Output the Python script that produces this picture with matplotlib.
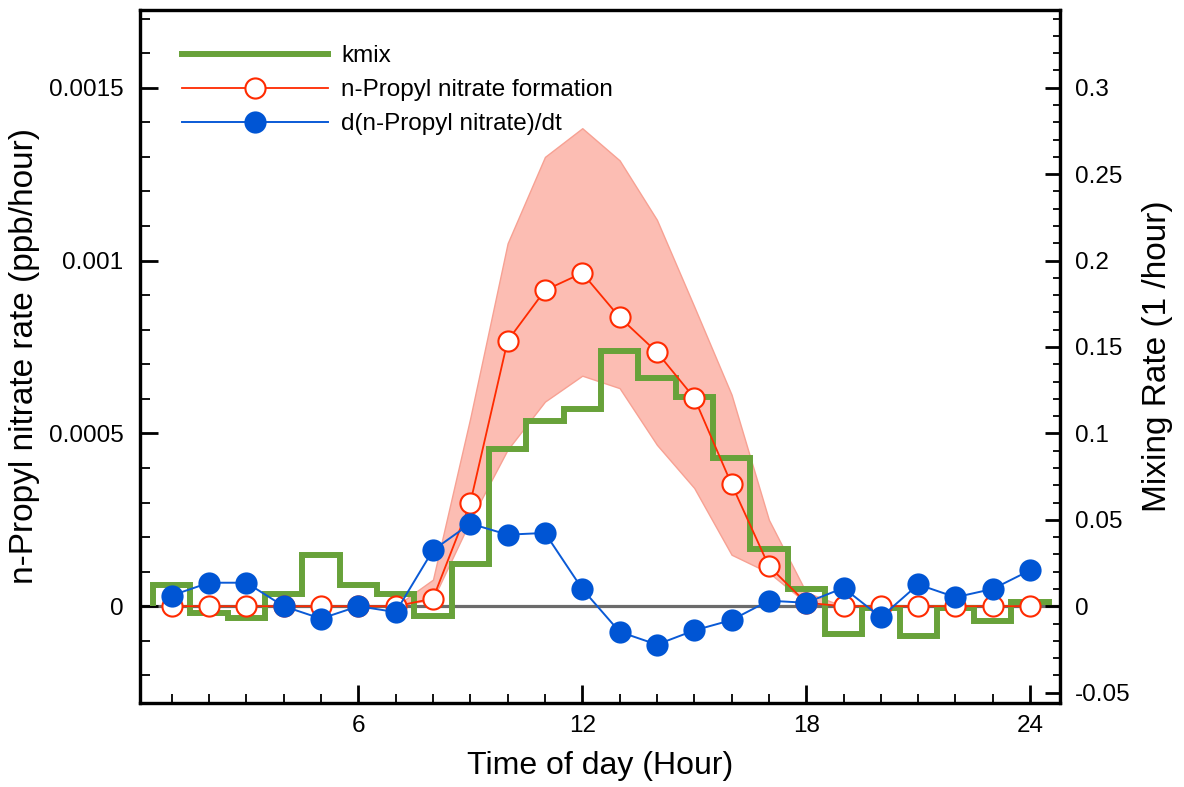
import numpy as np
import matplotlib
matplotlib.use("Agg")
import matplotlib.pyplot as plt
from matplotlib.ticker import FixedLocator, MultipleLocator, FuncFormatter

plt.rcParams['font.family'] = ['Liberation Sans', 'DejaVu Sans']

# ---- data ----
hours = list(range(1, 25))
formation = [0, 0, 0, 0, 0, 0, 0, 0.000022, 0.000299, 0.000768, 0.000914, 0.000964,
             0.000836, 0.000735, 0.000603, 0.000353, 0.000116, 0.00001, 0, 0, 0, 0, 0, 0]
formation_upper = [0, 0, 0, 0, 0, 0, 0, 0.000077, 0.000545, 0.00105, 0.0013, 0.001383,
                   0.00129, 0.001118, 0.000867, 0.000612, 0.00025, 0.00004, 0, 0, 0, 0, 0, 0]
formation_lower = [0, 0, 0, 0, 0, 0, 0, 0.00002, 0.000248, 0.000453, 0.000592, 0.000667,
                   0.000631, 0.000467, 0.000342, 0.000149, 0.000097, 0.00001, 0, 0, 0, 0, 0, 0]
ddt = [0.000031, 0.000068, 0.000068, 0.0, -0.000036, 0.0, -0.000017, 0.000162, 0.000239,
       0.000207, 0.000212, 0.00005, -0.000074, -0.000111, -0.00007, -0.00004, 0.000016,
       0.00001, 0.000053, -0.000032, 0.000063, 0.000026, 0.00005, 0.000104]
kmix = [0.0121, -0.0042, -0.0067, 0.0068, 0.0298, 0.0121, 0.0073, -0.0054, 0.0246, 0.0909,
        0.1073, 0.1139, 0.1479, 0.1318, 0.1208, 0.086, 0.0331, 0.010, -0.0158, -0.0009,
        -0.0173, -0.0009, -0.0087, 0.0023]
kmix_edges = [h - 0.5 for h in hours] + [hours[-1] + 0.5]

left_ticks = [0, 0.0005, 0.001, 0.0015]
right_ticks = [-0.05, 0, 0.05, 0.1, 0.15, 0.2, 0.25, 0.3]
x_ticks = [6, 12, 18, 24]

# ---- figure ----
fig = plt.figure(figsize=(11.84, 7.87), dpi=100)
ax = fig.add_axes([140/1184, 1 - 703/787, 920/1184, 693/787])
ax2 = ax.twinx()

ax.set_xlim(0.15, 24.8)
ax.set_ylim(-0.00028, 0.001725)
ax2.set_ylim(-0.056, 0.345)

ax.fill_between(hours, formation_lower, formation_upper, facecolor='#fcbdb3',
                edgecolor='#f7a193', linewidth=1.0, zorder=1)
ax.axhline(0, color='#6b6b6b', lw=2.3, zorder=1.5)
ax.stairs(kmix, kmix_edges, transform=ax2.transData, color='#68a23a', lw=4.3,
          zorder=2, label='kmix', joinstyle='miter')
ax.plot(hours, formation, color='#ff2a00', lw=1.3, marker='o', ms=14.5,
        mfc='white', mec='#ff2a00', mew=1.5, zorder=3,
        label='n-Propyl nitrate formation')
ax.plot(hours, ddt, color='#0a5ad6', lw=1.4, marker='o', ms=16,
        mfc='#0055d4', mec='#0055d4', mew=0, zorder=4,
        label='d(n-Propyl nitrate)/dt')

# ---- axes styling ----
for a in (ax, ax2):
    for s in a.spines.values():
        s.set_linewidth(2.3)

ax.xaxis.set_major_locator(FixedLocator(x_ticks))
ax.xaxis.set_minor_locator(FixedLocator([h for h in hours if h not in x_ticks]))
ax.yaxis.set_major_locator(FixedLocator(left_ticks))
ax.yaxis.set_minor_locator(MultipleLocator(0.0001))
ax.yaxis.set_major_formatter(FuncFormatter(lambda v, p: '%g' % v))
ax2.yaxis.set_major_locator(FixedLocator(right_ticks))
ax2.yaxis.set_minor_locator(MultipleLocator(0.01))
ax2.yaxis.set_major_formatter(FuncFormatter(lambda v, p: '%g' % v))

ax.tick_params(axis='x', which='major', direction='in', length=13, width=2, labelsize=17.5, pad=9, top=False)
ax.tick_params(axis='x', which='minor', direction='in', length=6.5, width=1.3, top=False)
ax.tick_params(axis='y', which='major', direction='in', length=13, width=2, labelsize=17.5, pad=12, right=False)
ax.tick_params(axis='y', which='minor', direction='in', length=7, width=1.3, right=False)
ax2.tick_params(axis='y', which='major', direction='in', length=11, width=2, labelsize=17.5, pad=11)
ax2.tick_params(axis='y', which='minor', direction='in', length=5, width=1.3)

ax.set_xlabel('Time of day (Hour)', fontsize=23, labelpad=10)
ax.set_ylabel('n-Propyl nitrate rate (ppb/hour)', fontsize=24, labelpad=6)
ax2.set_ylabel('Mixing Rate (1 /hour)', fontsize=24, labelpad=8)

ax.legend(loc='upper left', bbox_to_anchor=(0.022, 0.981), frameon=False,
          fontsize=17.5, handlelength=6.0, numpoints=1, labelspacing=0.5,
          handletextpad=0.55)

fig.savefig('out.png', dpi=100)
